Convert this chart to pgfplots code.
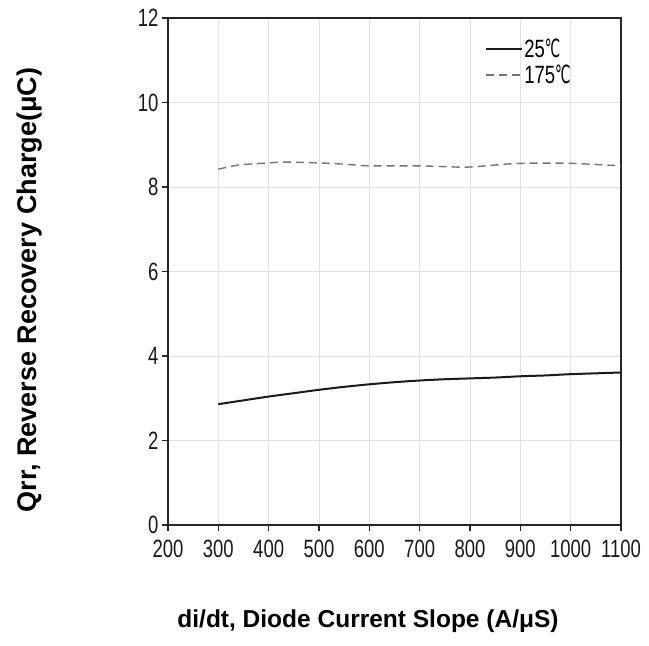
\documentclass[border=0pt]{standalone}
\usepackage{fontspec}
\setmainfont{Liberation Sans}
\newfontfamily\narrow[FakeStretch=0.74]{Liberation Sans}
\newfontfamily\dv[FakeStretch=0.55]{DejaVu Sans}
\usepackage{pgfplots}
\pgfplotsset{compat=1.18}
\begin{document}
\begin{tikzpicture}
\begin{axis}[
  at={(0pt,0pt)}, anchor=south west,
  scale only axis, width=453pt, height=507pt,
  xmin=200, xmax=1100, ymin=0, ymax=12,
  xtick={200,300,...,1100}, ytick={0,2,...,12},
  grid=major,
  grid style={line width=0.7pt, black!12},
  axis line style={line width=1.5pt, black!85},
  tick style={line width=1.5pt, black!85},
  tick align=outside, tickpos=left,
  major tick length=6pt,
  /pgf/number format/assume math mode=true,
  /pgf/number format/1000 sep={},
  tick label style={font=\narrow\fontsize{25}{25}\selectfont, text=black!90},
  yticklabel style={xshift=0pt},
  xticklabel style={yshift=-6pt},
  xlabel={di/dt, Diode Current Slope (A/μS)},
  ylabel={Qrr, Reverse Recovery Charge(μC)},
  xlabel style={at={(axis description cs:0.4415,-0.189)}, anchor=center, font=\bfseries\fontsize{24.5}{25}\selectfont},
  ylabel style={at={(axis description cs:-0.3046,0.4635)}, anchor=center, rotate=0, font=\bfseries\fontsize{27}{27}\selectfont},
  legend style={draw=none, fill=none, at={(axis cs:830,11.53)}, anchor=north west,
    font=\narrow\fontsize{25}{25}\selectfont, row sep=4pt, inner sep=0pt,
    nodes={inner sep=1pt}},
  legend cell align=left,
  legend image code/.code={\draw[#1] (0pt,0pt) -- (36pt,0pt);},
]
\addplot[black!90, line width=2pt, smooth] coordinates {
(300,2.86) (350,2.95) (400,3.04) (450,3.12) (500,3.20) (550,3.27) (600,3.33)
(650,3.38) (700,3.42) (750,3.45) (800,3.47) (850,3.49) (900,3.52) (950,3.54)
(1000,3.57) (1050,3.59) (1100,3.61)};
\addlegendentry{25{\dv ℃}}
\addplot[black!55, line width=1.4pt, dash pattern=on 8pt off 5pt, smooth] coordinates {
(300,8.42) (340,8.52) (400,8.57) (430,8.59) (500,8.57) (550,8.54) (600,8.50)
(700,8.50) (790,8.47) (850,8.52) (900,8.56) (1000,8.56) (1100,8.50)};
\addlegendentry{175{\dv ℃}}
\end{axis}
\pgfresetboundingbox
\path[use as bounding box] (-168pt,-121pt) rectangle (481pt,525pt);
\end{tikzpicture}
\end{document}
